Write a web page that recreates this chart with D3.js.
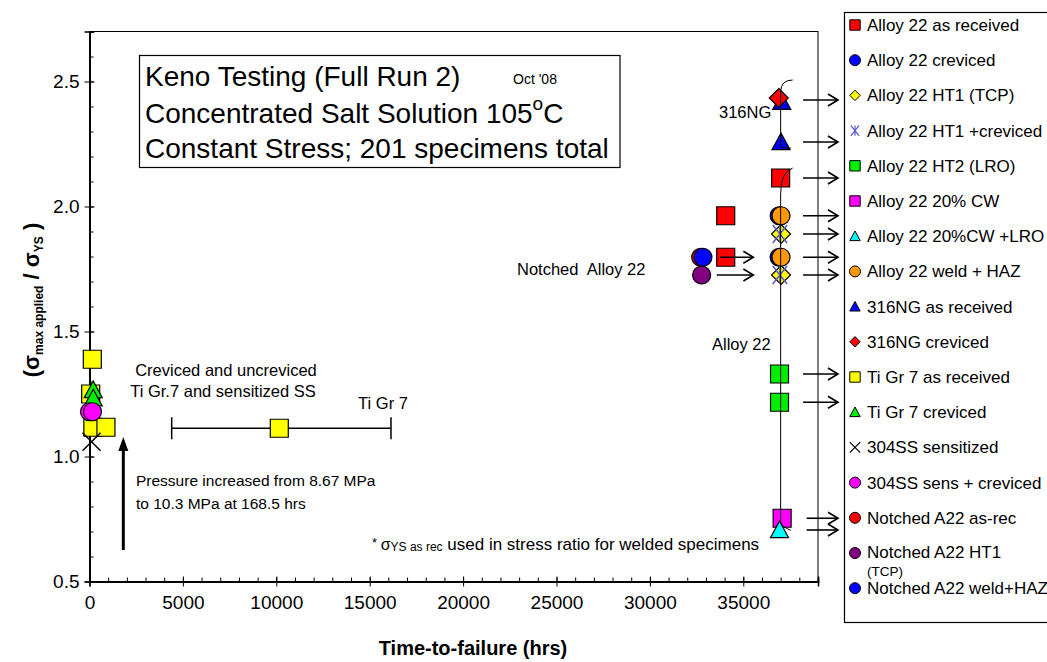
<!DOCTYPE html>
<html>
<head>
<meta charset="utf-8">
<script src="https://d3js.org/d3.v7.min.js"></script>
<style>
  body { margin: 0; background: #fff; }
  svg text { font-family: "Liberation Sans", Arial, sans-serif; fill: #000; white-space: pre; }
</style>
</head>
<body>
<script>
// series names, in legend / drawing order
var seriesNames = ["Alloy 22 as received", "Alloy 22 creviced", "Alloy 22 HT1 (TCP)",
  "Alloy 22 HT1 +creviced", "Alloy 22 HT2 (LRO)", "Alloy 22 20% CW", "Alloy 22 20%CW +LRO",
  "Alloy 22 weld + HAZ", "316NG as received", "316NG creviced", "Ti Gr 7 as received",
  "Ti Gr 7 creviced", "304SS sensitized", "304SS sens + creviced", "Notched A22 as-rec",
  "Notched A22 HT1 (TCP)", "Notched A22 weld+HAZ"];

// [time-to-failure (hrs), stress ratio] for each series
var a22AsRec     = [[37000, 2.114], [34060, 1.963], [34060, 1.797]];
var a22Crev      = [[36920, 1.963], [36920, 1.797]];
var a22Ht1       = [[37020, 1.89], [37020, 1.726]];
var a22Ht1Crev   = [[36960, 1.89], [36960, 1.726]];
var a22Ht2       = [[36940, 1.33], [36940, 1.217]];
var a22Cw        = [[37080, 0.753]];
var a22CwLro     = [[36940, 0.706]];
var a22Weld      = [[37020, 1.963], [37020, 1.797]];
var ss316AsRec   = [[37060, 2.419], [37020, 2.258]];
var ss316Crev    = [[36900, 2.434]];
var tiAsRec      = [[150, 1.389], [64, 1.25], [180, 1.117], [880, 1.117], [10160, 1.113]];
var tiCrev       = [[200, 1.266], [200, 1.233]];
var ss304Sens    = [[110, 1.059]];
var ss304Crev    = [[0, 1.179], [160, 1.179]];
var notchAsRec   = [[32720, 1.797]];
var notchHt1     = [[32770, 1.726]];
var notchWeld    = [[32840, 1.797]];

// Ti Gr 7 range bar: [low, high, ratio]
var tiRange = [4400, 16140, 1.113];
// still-running specimens (run-out arrows): ratios
var runoutRatios = [2.426, 2.258, 2.114, 1.963, 1.89, 1.797, 1.726, 1.33, 1.217, 0.753, 0.706];
// notched arrows: [from, to, ratio]
var notchArrows = [[33750, 35540, 1.797], [33580, 35540, 1.726]];

var xTicks = [0, 5000, 10000, 15000, 20000, 25000, 30000, 35000];
var yTicks = [0.5, 1.0, 1.5, 2.0, 2.5];

var seriesData = [a22AsRec, a22Crev, a22Ht1, a22Ht1Crev, a22Ht2, a22Cw, a22CwLro, a22Weld,
  ss316AsRec, ss316Crev, tiAsRec, tiCrev, ss304Sens, ss304Crev, notchAsRec, notchHt1, notchWeld];

// marker styles (shape, fill)
var styles = [
  ["square", "#ff0000"], ["circle", "#0000ff"], ["diamond", "#ffff00"], ["star", "#5a5ad2"],
  ["square", "#00ee00"], ["square", "#ff00ff"], ["triangle", "#00ffff"], ["circle", "#ff9900"],
  ["triangle", "#0000ff"], ["diamond", "#ff0000"], ["square", "#ffff00"], ["triangle", "#00ee00"],
  ["x", "#000"], ["circle", "#ff00ff"], ["circle", "#ff0000"], ["circle", "#800080"], ["circle", "#0000ff"]
];

var W = 1047, H = 662;
var svg = d3.select("body").append("svg").attr("width", W).attr("height", H);

var x = d3.scaleLinear().domain([0, 39000]).range([89.5, 818]);
var y = d3.scaleLinear().domain([0.5, 2.7]).range([581.5, 31.5]);

// marker path around 0,0; s = half size
function shape(type, s) {
  if (type === "square") return "M" + -s + "," + -s + "h" + 2 * s + "v" + 2 * s + "h" + -2 * s + "Z";
  if (type === "circle") return "M" + -s + ",0a" + s + "," + s + " 0 1,0 " + 2 * s + ",0a" + s + "," + s + " 0 1,0 " + -2 * s + ",0Z";
  if (type === "diamond") return "M0," + -s + "L" + s + ",0L0," + s + "L" + -s + ",0Z";
  if (type === "triangle") return "M0," + -s + "L" + s + "," + s * 0.85 + "L" + -s + "," + s * 0.85 + "Z";
  if (type === "x") return "M" + -s + "," + -s + "L" + s + "," + s + "M" + -s + "," + s + "L" + s + "," + -s;
  if (type === "star") return "M" + -s * 0.8 + "," + -s + "L" + s * 0.8 + "," + s + "M" + -s * 0.8 + "," + s + "L" + s * 0.8 + "," + -s + "M0," + -s + "V" + s;
}
function drawMarker(g, type, fill, s) {
  var p = g.append("path").attr("d", shape(type, s));
  if (type === "x" || type === "star") {
    p.attr("fill", "none").attr("stroke", fill).attr("stroke-width", 1.5);
  } else {
    p.attr("fill", fill).attr("stroke", "#000").attr("stroke-width", 1.2);
  }
  return p;
}

// plot frame
svg.append("rect").attr("x", 89.5).attr("y", 31.5).attr("width", 818 - 89.5).attr("height", 581.5 - 31.5)
  .attr("fill", "none").attr("stroke", "#000").attr("stroke-width", 1);

// axes
var xAxis = svg.append("g").attr("transform", "translate(0,581.5)");
xAxis.call(d3.axisBottom(x).tickValues(xTicks).tickSize(5).tickPadding(9).tickFormat(d3.format("d")));
xAxis.append("g").call(d3.axisBottom(x).tickValues(xTicks).tickSize(-5).tickFormat(""));
xAxis.append("g").call(d3.axisBottom(x).tickValues(d3.range(0, 39001, 1000)).tickSize(-4).tickFormat(""));
var yAxis = svg.append("g").attr("transform", "translate(89.5,0)");
yAxis.call(d3.axisLeft(y).tickValues(yTicks).tickSize(5).tickPadding(5).tickFormat(d3.format(".1f")));
yAxis.append("g").call(d3.axisLeft(y).tickValues(yTicks).tickSize(-5).tickFormat(""));
yAxis.append("g").call(d3.axisLeft(y).tickValues(d3.range(0.6, 2.7, 0.1)).tickSize(-4).tickFormat(""));
svg.selectAll(".domain").attr("stroke", "#000").attr("stroke-width", 1.5);
svg.selectAll(".tick line").attr("stroke", "#000");
svg.selectAll(".tick text").attr("font-size", 19).attr("font-family", "Liberation Sans, Arial, sans-serif");

// axis titles
svg.append("text").attr("x", 473).attr("y", 655).attr("text-anchor", "middle")
  .attr("font-size", 20).attr("font-weight", "bold").text("Time-to-failure (hrs)");
var yt = svg.append("text").attr("transform", "translate(39,300) rotate(-90)")
  .attr("text-anchor", "middle").attr("font-weight", "bold").attr("font-size", 22);
yt.append("tspan").text("(");
yt.append("tspan").text("σ");
yt.append("tspan").attr("font-size", 12).attr("dy", 4).text("max applied");
yt.append("tspan").attr("dy", -4).text(" / σ");
yt.append("tspan").attr("font-size", 12).attr("dy", 4).text("YS");
yt.append("tspan").attr("dy", -4).text(" )");

// Ti Gr 7 range bar
var rb = svg.append("g").attr("stroke", "#000").attr("stroke-width", 1.5);
rb.append("line").attr("x1", x(tiRange[0])).attr("x2", x(tiRange[1])).attr("y1", y(tiRange[2])).attr("y2", y(tiRange[2]));
[tiRange[0], tiRange[1]].forEach(function (t) {
  rb.append("line").attr("x1", x(t)).attr("x2", x(t)).attr("y1", y(tiRange[2]) - 11).attr("y2", y(tiRange[2]) + 11);
});

// data markers
seriesData.forEach(function (pts, i) {
  pts.forEach(function (d) {
    var g = svg.append("g").attr("transform", "translate(" + x(d[0]) + "," + y(d[1]) + ")");
    var s = styles[i][0] === "diamond" ? 9.5 : 9;
    drawMarker(g, styles[i][0], styles[i][1], s);
  });
});

// brace lines through the long-running specimens
var br = svg.append("g").attr("fill", "none").attr("stroke", "#000").attr("stroke-width", 1);
br.append("path").attr("d", "M" + (x(37000) + 12) + "," + (y(2.434) - 18) + " Q" + x(37000) + "," + (y(2.434) - 18) + " " + x(37000) + "," + (y(2.434) - 6) + " L" + x(37000) + "," + (y(2.258) + 4) + " Q" + x(37000) + "," + (y(2.258) + 6) + " " + (x(37000) + 10) + "," + (y(2.258) + 6));
br.append("path").attr("d", "M" + (x(37000) + 12) + "," + (y(2.114) - 10) + " Q" + x(37000) + "," + (y(2.114) - 6) + " " + x(37000) + "," + (y(2.114) + 16) + " L" + x(37000) + "," + (y(0.753) + 4) + " Q" + x(37000) + "," + (y(0.753) + 8) + " " + (x(37000) + 10) + "," + (y(0.753) + 12));

// open arrow helper
function openArrow(x1, x2, yy) {
  var g = svg.append("g").attr("stroke", "#000").attr("stroke-width", 1.6).attr("fill", "none");
  g.append("line").attr("x1", x1).attr("x2", x2).attr("y1", yy).attr("y2", yy);
  g.append("path").attr("d", "M" + (x2 - 10) + "," + (yy - 6) + "L" + x2 + "," + yy + "L" + (x2 - 10) + "," + (yy + 6));
}
runoutRatios.forEach(function (r, i) {
  openArrow(x(i >= 9 ? 38390 : 38200), x(40070), y(r));
});
notchArrows.forEach(function (d) { openArrow(x(d[0]), x(d[1]), y(d[2])); });

// pressure arrow
svg.append("line").attr("x1", x(1810)).attr("x2", x(1810)).attr("y1", y(0.626)).attr("y2", y(1.06))
  .attr("stroke", "#000").attr("stroke-width", 3);
svg.append("path").attr("d", "M" + x(1810) + "," + y(1.078) + "l-5,14h10Z").attr("fill", "#000");

// annotations
function label(t, xx, yy, fs, anchor) {
  return svg.append("text").attr("x", xx).attr("y", yy).attr("font-size", fs)
    .attr("text-anchor", anchor || "start").text(t);
}
label("Creviced and uncreviced", 226, 376, 16.5, "middle");
label("Ti Gr.7 and sensitized SS", 223, 397, 16.5, "middle");
label("Ti Gr 7", 383, 409, 16.5, "middle");
label("Pressure increased from 8.67 MPa", 136, 486, 15.5);
label("to 10.3 MPa at 168.5 hrs", 136, 509, 15.5);
label("Notched  Alloy 22", 517, 275, 16.5);
label("316NG", 719, 118, 16.5);
label("Alloy 22", 712, 350, 16.5);
var note = svg.append("text").attr("x", 372).attr("y", 550).attr("font-size", 17);
note.append("tspan").attr("font-size", 13).attr("dy", -3).text("* ");
note.append("tspan").attr("font-size", 16).attr("dy", 3).text("σ");
note.append("tspan").attr("font-size", 12).attr("dy", 1).text("YS as rec");
note.append("tspan").attr("dy", -1).text(" used in stress ratio for welded specimens");

// title box
svg.append("rect").attr("x", 139.5).attr("y", 55.5).attr("width", 480.5).attr("height", 112)
  .attr("fill", "#fff").attr("stroke", "#000").attr("stroke-width", 1.2);
label("Keno Testing (Full Run 2)", 145, 86, 28);
label("Oct '08", 513, 84, 14);
var t2 = label("Concentrated Salt Solution 105", 145, 123, 28);
t2.append("tspan").attr("font-size", 19).attr("dy", -13).text("o");
t2.append("tspan").attr("dy", 13).text("C");
label("Constant Stress; 201 specimens total", 145, 158, 28);

// legend
var lg = svg.append("g");
lg.append("rect").attr("x", 844.5).attr("y", 12.5).attr("width", 220).attr("height", 610)
  .attr("fill", "#fff").attr("stroke", "#000").attr("stroke-width", 1.2);
seriesNames.forEach(function (n, i) {
  var yy = 25 + i * 35.2;
  var g = lg.append("g").attr("transform", "translate(855," + yy + ")");
  var st = styles[i][0];
  drawMarker(g, st, styles[i][1], st === "circle" ? 5.5 : 5.2).attr("stroke-width", st === "x" || st === "star" ? 1.2 : 1);
  if (n === "Notched A22 HT1 (TCP)") {
    lg.append("text").attr("x", 867).attr("y", yy + 5).attr("font-size", 17).text("Notched A22 HT1");
    lg.append("text").attr("x", 867).attr("y", yy + 22.5).attr("font-size", 13.5).text("(TCP)");
  } else {
    lg.append("text").attr("x", 867).attr("y", yy + 6).attr("font-size", 17).text(n);
  }
});
</script>
</body>
</html>
